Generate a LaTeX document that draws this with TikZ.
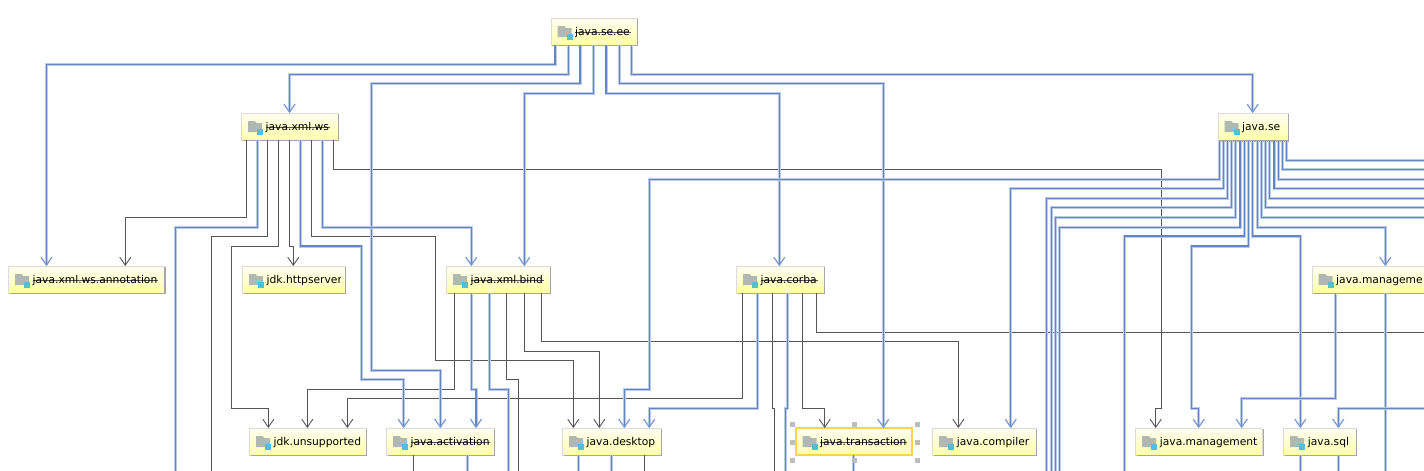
\documentclass[tikz,border=0pt]{standalone}
\usepackage{fontspec}
\setmainfont{DejaVu Sans}
\usetikzlibrary{arrows.meta}
\definecolor{blueline}{HTML}{6585C0}
\definecolor{bluehalo}{HTML}{BACBE8}
\definecolor{bluetip}{HTML}{7F9ED6}
\definecolor{greyline}{HTML}{555555}
\definecolor{boxedge}{HTML}{DADAD6}
\definecolor{boxshade}{HTML}{A6A6A2}
\definecolor{boxtop}{HTML}{FFFFF4}
\definecolor{boxbottom}{HTML}{FFFFA8}
\definecolor{foldergrey}{HTML}{B0B8B4}
\definecolor{badgeblue}{HTML}{52BEDC}
\definecolor{goldedge}{HTML}{FFD24F}
\definecolor{handlegrey}{HTML}{BDBDBD}
\definecolor{strikegrey}{HTML}{555555}
\newcommand\strk[1]{\setbox0=\hbox{#1}\rlap{\color{strikegrey}\rule[2.9pt]{\dimexpr\wd0+1pt}{1pt}}\box0}
% name, x0, y0, x1, y1, clip x, text
\newcommand\modnode[7]{%
  \node[modbox,minimum width={(#4-#2)*1pt},minimum height={(#5-#3)*1pt}] (#1) at ({(#2+#4)/2},{(#3+#5)/2}) {};
  \draw[boxshade,line width=1.1pt] ([xshift=0.5pt,yshift=-1pt]#1.north east) -- ([xshift=0.5pt,yshift=-0.5pt]#1.south east) -- ([xshift=1pt,yshift=-0.5pt]#1.south west);
  \begin{scope}
    \clip (#2,#3) rectangle (#6,#5);
    \node[modtext] (#1-text) at ({#2+24},{(#3+#5)/2+4}) {#7};
  \end{scope}
  \begin{scope}[shift={(#2,#3)}]
    \fill[foldergrey] (6.5,8) -- (13,8) -- (15,10) -- (20.5,10) -- (20.5,19) -- (6.5,19) -- cycle;
    \fill[badgeblue] (15.5,15.7) rectangle (21.7,21.5);
  \end{scope}}
\tikzset{
  modbox/.style={draw=boxedge,line width=0.8pt,top color=boxtop,bottom color=boxbottom,inner sep=0pt,outer sep=0pt},
  modtext/.style={anchor=base west,inner sep=0pt,font=\fontsize{10.7}{12}\selectfont,text=black},
  greydep/.style={draw=greyline,line width=0.9pt},
  greyarrow/.style={greydep,-{Straight Barb[length=8pt,width=11pt,line width=0.9pt]}},
  bluedep/.style={draw=blueline,line width=1.4pt,preaction={draw=bluehalo,line width=3pt}},
  bluearrow/.style={draw=blueline,line width=1.4pt,preaction={draw=bluehalo,line width=3pt},
    -{Straight Barb[length=8pt,width=11pt,line width=1pt,color=bluetip]}},
  handle/.style={fill=handlegrey,minimum size=5pt,inner sep=0pt,outer sep=0pt}
}
\begin{document}
\begin{tikzpicture}[x=1pt,y=-1pt,line join=miter]
\useasboundingbox (0,0) rectangle (1424,471);
\clip (0,0) rectangle (1424,471);
\fill[white] (0,0) rectangle (1424,471);
\coordinate (edgeR) at (1424,0);
\coordinate (edgeB) at (0,471);
% nodes
\modnode{ee}{551}{18}{637}{45}{637}{\strk{java.se.ee}}
\modnode{xmlws}{241.5}{113}{338}{140}{338}{\strk{java.xml.ws}}
\modnode{se}{1218}{113}{1288}{140.5}{1288}{java.se}
\modnode{annot}{8.5}{266}{164.5}{293}{164.5}{\strk{java.xml.ws.annotation}}
\modnode{httpsrv}{242.5}{266}{345}{293}{340.7}{jdk.httpserver}
\modnode{bind}{446.5}{266}{550}{293}{550}{\strk{java.xml.bind}}
\modnode{corba}{736.5}{266}{824}{293}{824}{\strk{java.corba}}
\modnode{mods}{1312}{266}{1470}{293}{1470}{java.manageme}
\modnode{unsup}{249.5}{428}{366}{455}{366}{jdk.unsupported}
\modnode{activ}{386.5}{428}{494}{455}{490}{\strk{java.activation}}
\modnode{desk}{562.5}{428}{661}{455}{661}{java.desktop}
\modnode{trans}{796}{428}{912}{455}{908}{\strk{java.transaction}}
\modnode{comp}{932.7}{428}{1036}{455}{1036}{java.compiler}
\modnode{mgmt}{1135.7}{428}{1262.7}{455}{1262.7}{java.management}
\modnode{sql}{1283.7}{428}{1356}{455}{1356}{java.sql}
\draw[goldedge,line width=1.4pt] (trans.north west) rectangle (trans.south east);
% grey connectors
\draw[greyarrow] (246.7,0 |- xmlws.south) -- (246.7,217.3) -- (125.3,217.3) -- (125.3,0 |- annot.north);
\draw[greydep] (267.3,0 |- xmlws.south) -- (267.3,236.3) -- (211.3,236.3) -- (211.3,0 |- edgeB);
\draw[greyarrow] (278.3,0 |- xmlws.south) -- (278.3,246) -- (231.7,246) -- (231.7,408.3) -- (268.3,408.3) -- (268.3,0 |- unsup.north);
\draw[greyarrow] (289.3,0 |- xmlws.south) -- (289.3,246) -- (293.3,246) -- (293.3,0 |- httpsrv.north);
\draw[greyarrow] (311.7,0 |- xmlws.south) -- (311.7,236.3) -- (435.3,236.3) -- (435.3,360.3) -- (573.3,360.3) -- (573.3,0 |- desk.north);
\draw[greyarrow] (333.3,0 |- xmlws.south) -- (333.3,169.3) -- (1161.3,169.3) -- (1161.3,408.3) -- (1155.7,408.3) -- (1155.7,0 |- mgmt.north);
\draw[greyarrow] (454.3,0 |- bind.south) -- (454.3,389.3) -- (307.3,389.3) -- (307.3,0 |- unsup.north);
\draw[greydep] (506.3,0 |- bind.south) -- (506.3,379.3) -- (518.3,379.3) -- (518.3,0 |- edgeB);
\draw[greyarrow] (524.3,0 |- bind.south) -- (524.3,351.3) -- (599.3,351.3) -- (599.3,0 |- desk.north);
\draw[greyarrow] (541.3,0 |- bind.south) -- (541.3,341.3) -- (958.3,341.3) -- (958.3,0 |- comp.north);
\draw[greyarrow] (742.3,0 |- corba.south) -- (742.3,398.3) -- (347.3,398.3) -- (347.3,0 |- unsup.north);
\draw[greydep] (772.7,0 |- corba.south) -- (772.7,408.3) -- (774.7,408.3) -- (774.7,0 |- edgeB);
\draw[greyarrow] (802.3,0 |- corba.south) -- (802.3,408.3) -- (824.7,408.3) -- (824.7,0 |- trans.north);
\draw[greydep] (816.3,0 |- corba.south) -- (816.3,332.3) -- (edgeR |- 0,332.3);
\draw[greydep] (413.7,0 |- activ.south) -- (413.7,0 |- edgeB);
\draw[greydep] (644.3,0 |- desk.south) -- (644.3,0 |- edgeB);
% blue connectors from java.se.ee
\draw[bluearrow] (555,0 |- ee.south) -- (555,64.5) -- (46.5,64.5) -- (46.5,0 |- annot.north);
\draw[bluearrow] (568.5,0 |- ee.south) -- (568.5,74.5) -- (289.5,74.5) -- (289.5,0 |- xmlws.north);
\draw[bluearrow] (580,0 |- ee.south) -- (580,83.5) -- (371.5,83.5) -- (371.5,370.3) -- (440.3,370.3) -- (440.3,0 |- activ.north);
\draw[bluearrow] (593.5,0 |- ee.south) -- (593.5,93.5) -- (524.3,93.5) -- (524.3,0 |- bind.north);
\draw[bluearrow] (606,0 |- ee.south) -- (606,93.5) -- (779.3,93.5) -- (779.3,0 |- corba.north);
\draw[bluearrow] (619.5,0 |- ee.south) -- (619.5,83.5) -- (883.3,83.5) -- (883.3,0 |- trans.north);
\draw[bluearrow] (631.5,0 |- ee.south) -- (631.5,74.5) -- (1252.7,74.5) -- (1252.7,0 |- se.north);
% blue connectors from java.xml.ws
\draw[bluedep] (257.3,0 |- xmlws.south) -- (257.3,227.3) -- (175.3,227.3) -- (175.3,0 |- edgeB);
\draw[bluearrow] (300.3,0 |- xmlws.south) -- (300.3,246) -- (361.7,246) -- (361.7,379.3) -- (403.7,379.3) -- (403.7,0 |- activ.north);
\draw[bluearrow] (322.3,0 |- xmlws.south) -- (322.3,227.3) -- (471.3,227.3) -- (471.3,0 |- bind.north);
% blue connectors from java.xml.bind
\draw[bluearrow] (471.3,0 |- bind.south) -- (471.3,389.3) -- (476,389.3) -- (476,0 |- activ.north);
\draw[bluedep] (489.3,0 |- bind.south) -- (489.3,389.3) -- (508.3,389.3) -- (508.3,0 |- edgeB);
% blue connectors from java.corba
\draw[bluearrow] (757.3,0 |- corba.south) -- (757.3,408.3) -- (649.3,408.3) -- (649.3,0 |- desk.north);
\draw[bluedep] (787.3,0 |- corba.south) -- (787.3,408.3) -- (785.3,408.3) -- (785.3,0 |- edgeB);
% blue connectors from java.se
\draw[bluearrow] (1219.3,0 |- se.south) -- (1219.3,179.3) -- (649.3,179.3) -- (649.3,389.3) -- (624.3,389.3) -- (624.3,0 |- desk.north);
\draw[bluearrow] (1223.3,0 |- se.south) -- (1223.3,188.3) -- (1010.7,188.3) -- (1010.7,0 |- comp.north);
\draw[bluedep] (1227.3,0 |- se.south) -- (1227.3,198.3) -- (1046.3,198.3) -- (1046.3,0 |- edgeB);
\draw[bluedep] (1231.3,0 |- se.south) -- (1231.3,207.3) -- (1051.3,207.3) -- (1051.3,0 |- edgeB);
\draw[bluedep] (1235.7,0 |- se.south) -- (1235.7,217.3) -- (1055.3,217.3) -- (1055.3,0 |- edgeB);
\draw[bluedep] (1240,0 |- se.south) -- (1240,227.3) -- (1059.7,227.3) -- (1059.7,0 |- edgeB);
\draw[bluedep] (1244.3,0 |- se.south) -- (1244.3,236) -- (1124.3,236) -- (1124.3,0 |- edgeB);
\draw[bluearrow] (1248.3,0 |- se.south) -- (1248.3,246) -- (1191.7,246) -- (1191.7,408.3) -- (1198.7,408.3) -- (1198.7,0 |- mgmt.north);
\draw[bluearrow] (1252.7,0 |- se.south) -- (1252.7,236) -- (1300.3,236) -- (1300.3,0 |- sql.north);
\draw[bluearrow] (1257.3,0 |- se.south) -- (1257.3,227.3) -- (1385.3,227.3) -- (1385.3,0 |- mods.north);
\draw[bluedep] (1261.7,0 |- se.south) -- (1261.7,217.3) -- (edgeR |- 0,217.3);
\draw[bluedep] (1265.7,0 |- se.south) -- (1265.7,207.3) -- (edgeR |- 0,207.3);
\draw[bluedep] (1269.7,0 |- se.south) -- (1269.7,198.3) -- (edgeR |- 0,198.3);
\draw[bluedep] (1274,0 |- se.south) -- (1274,188.3) -- (edgeR |- 0,188.3);
\draw[bluedep] (1278.7,0 |- se.south) -- (1278.7,179.3) -- (edgeR |- 0,179.3);
\draw[bluedep] (1282.7,0 |- se.south) -- (1282.7,169.3) -- (edgeR |- 0,169.3);
\draw[bluedep] (1286.7,0 |- se.south) -- (1286.7,160.3) -- (edgeR |- 0,160.3);
% blue connectors around java.manageme
\draw[bluearrow] (1335.3,0 |- mods.south) -- (1335.3,398.3) -- (1241.7,398.3) -- (1241.7,0 |- mgmt.north);
\draw[bluedep] (1385.3,0 |- mods.south) -- (1385.3,0 |- edgeB);
\draw[bluearrow] (edgeR |- 0,408.3) -- (1338.3,408.3) -- (1338.3,0 |- sql.north);
% blue stubs leaving at the bottom
\draw[bluedep] (467.3,0 |- activ.south) -- (467.3,0 |- edgeB);
\draw[bluedep] (578.3,0 |- desk.south) -- (578.3,0 |- edgeB);
\draw[bluedep] (611.3,0 |- desk.south) -- (611.3,0 |- edgeB);
\draw[bluedep] (853.3,0 |- trans.south) -- (853.3,0 |- edgeB);
\draw[bluedep] (1300.3,0 |- sql.south) -- (1300.3,0 |- edgeB);
\draw[bluedep] (1338.3,0 |- sql.south) -- (1338.3,0 |- edgeB);
% selection handles
\foreach \hx/\hy/\hn in {792/424.3/a,854.3/424.3/b,917/424.3/c,792/442.3/d,917/442.3/e,792/460.3/f,854.3/460.3/g,917/460.3/h}
  \node[handle] (handle\hn) at (\hx,\hy) {};
\end{tikzpicture}
\end{document}
